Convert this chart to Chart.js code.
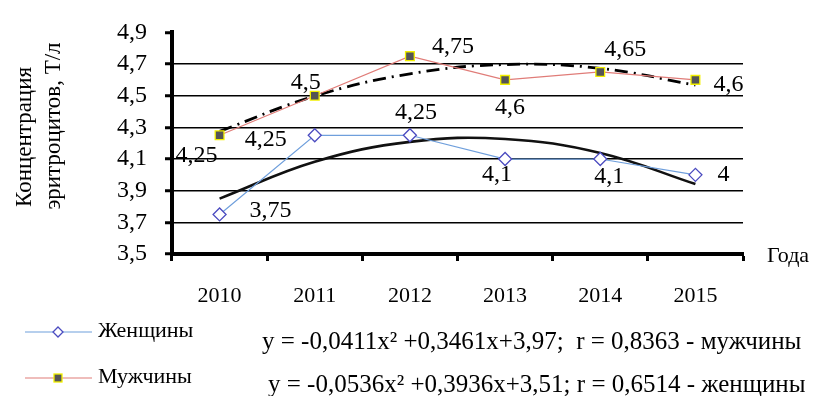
<!DOCTYPE html>
<html>
<head>
<meta charset="utf-8">
<script src="https://cdn.jsdelivr.net/npm/chart.js@4/dist/chart.umd.min.js"></script>
<style>
  body { margin: 0; background: #fff; }
</style>
</head>
<body>
<canvas id="chart" width="822" height="396"></canvas>
<script>
const years = ['2010', '2011', '2012', '2013', '2014', '2015'];
const women = [3.75, 4.25, 4.25, 4.1, 4.1, 4.0];
const men = [4.25, 4.5, 4.75, 4.6, 4.65, 4.6];
// trend y = a*x^2 + b*x + c, x = 1..6 for the years
const menTrend = [-0.0411, 0.3461, 3.97];
const womenTrend = [-0.0536, 0.3936, 3.51];
const menEq = 'y = -0,0411x² +0,3461x+3,97;  r = 0,8363 - мужчины';
const womenEq = 'y = -0,0536x² +0,3936x+3,51; r = 0,6514 - женщины';

const SERIF = '"Liberation Serif", "Times New Roman", serif';
const WOMEN_LINE = '#6f9fdc';
const WOMEN_MARK = '#4b4bc0';
const MEN_LINE = '#e07c78';

const trend = k => years.map((_, i) => {
  const x = i + 1;
  return k[0] * x * x + k[1] * x + k[2];
});
const fmt = v => String(v).replace('.', ',');

// value label offsets from each point (px)
const menLabelPos = [[-23, 20], [-9, -13], [43, -9], [5, 28], [25, -22], [33, 5]];
const womenLabelPos = [[51, -4], [-49, 4], [6, -23], [-8, 16], [9, 18], [28, 0]];

const annotate = {
  id: 'annotate',
  afterDatasetsDraw(chart) {
    const ctx = chart.ctx;
    ctx.save();
    ctx.font = '24px ' + SERIF;
    ctx.fillStyle = '#000';
    ctx.textAlign = 'center';
    ctx.textBaseline = 'middle';
    chart.data.datasets.forEach((ds, di) => {
      if (!ds.labelPos) return;
      chart.getDatasetMeta(di).data.forEach((pt, i) => {
        const [dx, dy] = ds.labelPos[i];
        ctx.fillText(fmt(ds.data[i]), pt.x + dx, pt.y + dy);
      });
    });
    ctx.restore();
  },
  afterDraw(chart) {
    const ctx = chart.ctx;
    ctx.save();
    ctx.fillStyle = '#000';

    // axis titles
    ctx.font = '22px ' + SERIF;
    ctx.textAlign = 'left';
    ctx.textBaseline = 'middle';
    ctx.fillText('Года', 767, 256);

    ctx.save();
    ctx.rotate(-Math.PI / 2);
    ctx.font = '23px ' + SERIF;
    ctx.textAlign = 'center';
    ctx.fillText('Концентрация', -137, 25);
    ctx.fillText('эритроцитов, Т/л', -126, 54);
    ctx.restore();

    // legend
    ctx.lineWidth = 1.2;
    ctx.strokeStyle = WOMEN_LINE;
    ctx.beginPath(); ctx.moveTo(25, 332); ctx.lineTo(92, 332); ctx.stroke();
    ctx.fillStyle = '#fff';
    ctx.strokeStyle = WOMEN_MARK;
    ctx.lineWidth = 1.3;
    ctx.beginPath();
    ctx.moveTo(58, 327); ctx.lineTo(63, 332); ctx.lineTo(58, 337); ctx.lineTo(53, 332);
    ctx.closePath(); ctx.fill(); ctx.stroke();

    ctx.lineWidth = 1.2;
    ctx.strokeStyle = MEN_LINE;
    ctx.beginPath(); ctx.moveTo(25, 378); ctx.lineTo(92, 378); ctx.stroke();
    ctx.fillStyle = '#555';
    ctx.strokeStyle = '#f2f000';
    ctx.lineWidth = 1.3;
    ctx.fillRect(54, 374, 8, 8);
    ctx.strokeRect(54, 374, 8, 8);

    ctx.fillStyle = '#000';
    ctx.font = '22px ' + SERIF;
    ctx.textAlign = 'left';
    ctx.fillText('Женщины', 98, 331);
    ctx.fillText('Мужчины', 98, 377);

    // trend equations
    ctx.font = '25px ' + SERIF;
    ctx.fillText(menEq, 262, 342, 543);
    ctx.fillText(womenEq, 268, 385, 542);
    ctx.restore();
  }
};

new Chart('chart', {
  type: 'line',
  data: {
    labels: years,
    datasets: [{
      label: 'Женщины',
      data: women,
      labelPos: womenLabelPos,
      borderColor: WOMEN_LINE,
      borderWidth: 1.2,
      pointStyle: 'rectRot',
      pointRadius: 6.5,
      pointBackgroundColor: '#fff',
      pointBorderColor: WOMEN_MARK,
      pointBorderWidth: 1.3,
      order: 1
    }, {
      label: 'Мужчины',
      data: men,
      labelPos: menLabelPos,
      borderColor: MEN_LINE,
      borderWidth: 1.2,
      pointStyle: 'rect',
      pointRadius: 6.2,
      pointBackgroundColor: '#555',
      pointBorderColor: '#f2f000',
      pointBorderWidth: 1.3,
      order: 0
    }, {
      label: 'тренд мужчины',
      data: trend(menTrend),
      borderColor: '#000',
      borderWidth: 2.8,
      borderDash: [13, 6, 2, 6],
      pointRadius: 0,
      tension: 0.4,
      order: 2
    }, {
      label: 'тренд женщины',
      data: trend(womenTrend),
      borderColor: '#111',
      borderWidth: 2.6,
      pointRadius: 0,
      tension: 0.4,
      order: 2
    }]
  },
  options: {
    responsive: false,
    animation: false,
    layout: { padding: { top: 17, right: 79, left: 0, bottom: 0 } },
    plugins: {
      legend: { display: false },
      tooltip: { enabled: false }
    },
    scales: {
      x: {
        offset: true,
        grid: {
          offset: true,
          drawOnChartArea: false,
          tickLength: 7,
          tickWidth: 3,
          tickColor: '#000'
        },
        border: { color: '#000', width: 4 },
        ticks: { color: '#000', padding: 22, autoSkip: false, maxRotation: 0, font: { family: SERIF, size: 22 } },
        afterFit: s => { s.height = 142; }
      },
      y: {
        min: 3.5,
        max: 4.9,
        grid: {
          color: c => (c.tick && c.tick.value > 4.85) ? 'rgba(0,0,0,0)' : '#000',
          lineWidth: 1.5,
          tickLength: 7,
          tickWidth: 3,
          tickColor: '#000'
        },
        border: { color: '#000', width: 4 },
        ticks: {
          stepSize: 0.2,
          autoSkip: false,
          color: '#000',
          padding: 18,
          font: { family: SERIF, size: 24 },
          callback: v => v.toFixed(1).replace('.', ',')
        },
        afterFit: s => { s.width = 172; }
      }
    }
  },
  plugins: [annotate]
});
</script>
</body>
</html>
